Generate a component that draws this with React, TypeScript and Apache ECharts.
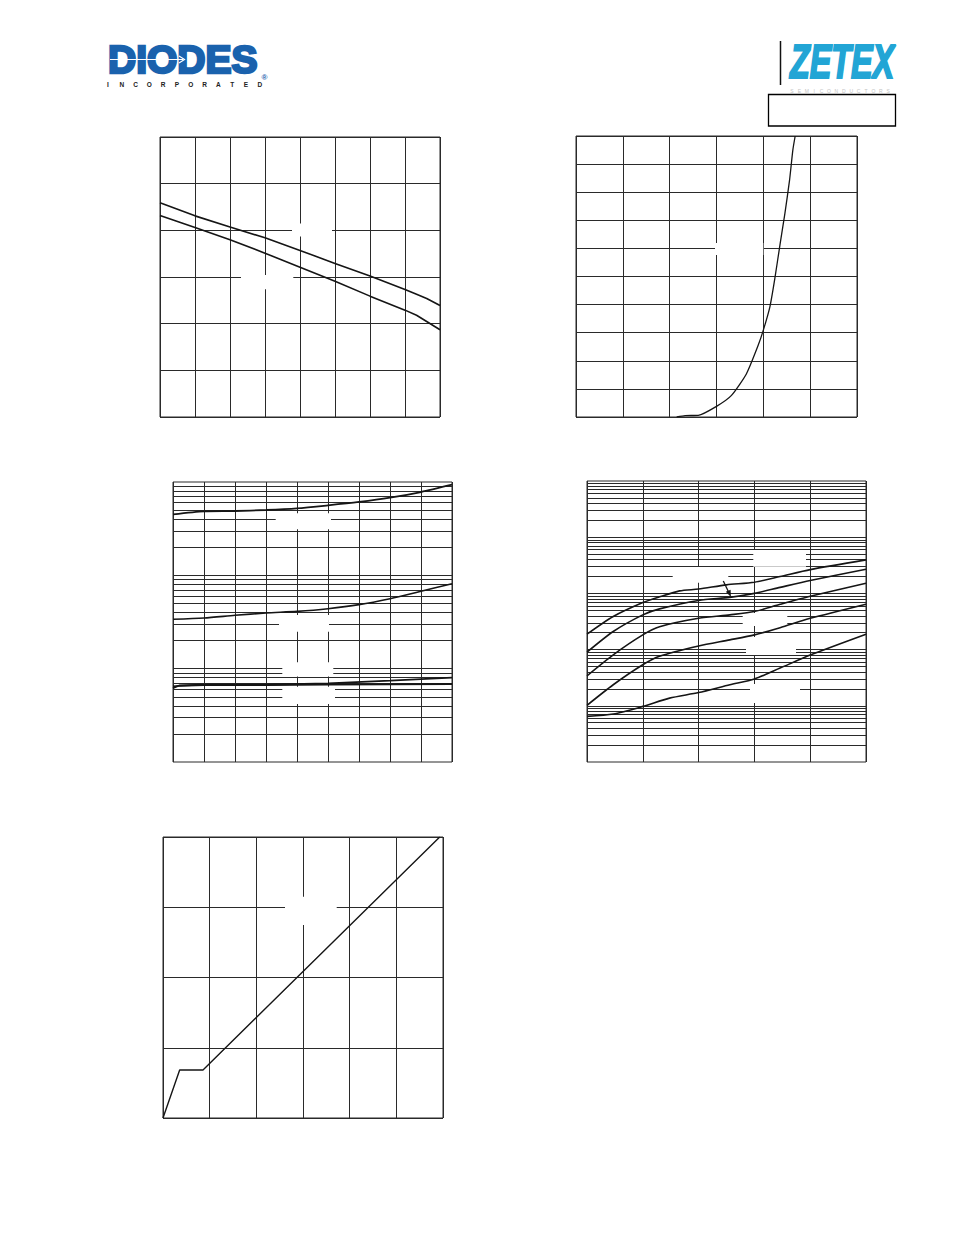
import React, { useEffect, useRef } from "react";
import * as echarts from "echarts";

// ---------- Chart 1 (top left): two near-linear falling curves ----------
const c1UpperX = [0, 1, 2, 3, 4, 5, 6, 7, 7.33, 7.62, 8];
const c1UpperY = [4.59, 4.31, 4.07, 3.84, 3.57, 3.29, 3.02, 2.73, 2.63, 2.54, 2.39];
const c1LowerX = [0, 1, 2, 3, 4, 5, 6, 7, 7.33, 8];
const c1LowerY = [4.32, 4.06, 3.8, 3.51, 3.21, 2.91, 2.59, 2.29, 2.18, 1.87];

// ---------- Chart 2 (top right): exponential rise ----------
const c2X = [2.15, 2.33, 2.61, 3.0, 3.32, 3.64, 3.89, 4.0, 4.14, 4.24, 4.36, 4.46, 4.56, 4.63, 4.68];
const c2Y = [0, 0.05, 0.06, 0.38, 0.77, 1.54, 2.55, 3.09, 3.92, 4.87, 6.18, 7.24, 8.43, 9.5, 10.0];

// ---------- Chart 3 (middle left): log y, 3 decades ----------
const c3X = [0, 1, 2, 3, 4, 5, 6, 7, 8, 9];
const c3Top = [450, 485, 489, 501, 522, 562, 611, 679, 781, 936];
const c3Mid = [33.8, 34.9, 37.3, 39.5, 41.1, 43.9, 48.5, 56.2, 67.4, 81.4];
const c3LowX = [0, 0.2, 1, 3, 5, 7, 9];
const c3LowA = [6.2, 6.6, 6.74, 6.74, 6.96, 7.44, 8.01];
const c3LowB = [6.45, 6.55, 6.68, 6.68, 6.74, 6.8, 6.85];
const c3Decades = [1, 10, 100];

// ---------- Chart 4 (middle right): log y, 5 decades, five curves ----------
const c4X1 = [0, 0.47, 1, 1.3, 1.66, 2, 2.5, 3, 3.46, 4, 5];
const c4Y1 = [188, 388, 688, 870, 1109, 1195, 1419, 1582, 1995, 2650, 3945];
const c4X2 = [0, 0.47, 1, 1.3, 2, 2.56, 3, 3.46, 4, 5];
const c4Y2 = [90, 210, 415, 530, 750, 850, 1000, 1280, 1700, 2692];
const c4X3 = [0, 0.47, 1, 1.3, 2, 2.56, 3, 3.46, 4, 5];
const c4Y3 = [34.2, 80.9, 183, 255, 360, 415, 476, 640, 890, 1518];
const c4X4 = [0, 0.47, 1, 1.3, 2, 2.56, 3, 3.46, 4, 5];
const c4Y4 = [10.2, 23.7, 53.7, 76, 116, 149, 183, 245, 360, 643];
const c4X5 = [0, 0.47, 1, 1.48, 2, 2.56, 3, 3.46, 4, 5];
const c4Y5 = [6.48, 7.13, 9.76, 13.7, 17.2, 23.7, 30, 46.9, 80, 188];
const c4Decades = [1, 10, 100, 1000, 10000];

// ---------- Chart 5 (bottom left): step then linear ----------
const c5X = [0, 0.357, 0.857, 5.93];
const c5Y = [0, 0.684, 0.684, 4.0];

const INK = "#151515";
const GRID = "#2a2a2a";
const BLUE = "#1a62ad";
const CYAN = "#22a5d5";

function logGridValues(decades: number[]): number[] {
  const out: number[] = [];
  decades.forEach((d, i) => {
    for (let m = i === 0 ? 2 : 1; m <= 9; m++) out.push(m * d);
  });
  return out;
}

function curve(xs: number[], ys: number[], idx: number, width: number, smooth: number | boolean = 0.25) {
  return {
    type: "line",
    xAxisIndex: idx,
    yAxisIndex: idx,
    data: xs.map((x, i) => [x, ys[i]]),
    showSymbol: false,
    symbol: "none",
    smooth,
    clip: true,
    silent: true,
    z: 10,
    lineStyle: { color: INK, width },
  };
}

function minorGrid(idx: number, values: number[], anchor: [number, number]) {
  return {
    type: "line",
    xAxisIndex: idx,
    yAxisIndex: idx,
    data: [anchor],
    symbol: "none",
    showSymbol: false,
    silent: true,
    z: 1,
    lineStyle: { opacity: 0 },
    markLine: {
      z: 1,
      silent: true,
      animation: false,
      symbol: ["none", "none"],
      label: { show: false },
      emphasis: { disabled: true },
      lineStyle: { color: GRID, width: 1, type: "solid" },
      data: values.map((v) => ({ yAxis: v })),
    },
  };
}

function linAxis(idx: number, min: number, max: number) {
  return {
    type: "value",
    gridIndex: idx,
    min,
    max,
    interval: 1,
    axisLabel: { show: false },
    axisTick: { show: false },
    axisLine: { show: false },
    splitLine: { show: true, lineStyle: { color: GRID, width: 1 } },
  };
}

function logAxis(idx: number, min: number, max: number) {
  return {
    type: "log",
    logBase: 10,
    gridIndex: idx,
    min,
    max,
    axisLabel: { show: false },
    axisTick: { show: false },
    axisLine: { show: false },
    splitLine: { show: false },
  };
}

function grid(left: number, top: number, width: number, height: number) {
  return {
    left,
    top,
    width,
    height,
    show: true,
    borderColor: GRID,
    borderWidth: 1,
    backgroundColor: "transparent",
    containLabel: false,
    outerBoundsMode: "none",
  };
}

function whiteRect(x: number, y: number, w: number, h: number) {
  return { type: "rect", silent: true, z: 5, shape: { x, y, width: w, height: h }, style: { fill: "#ffffff" } };
}

export default function App() {
  const ref = useRef<HTMLDivElement>(null);

  useEffect(() => {
    if (!ref.current) return;
    const chart = echarts.init(ref.current, undefined, { renderer: "svg" });

    const incorporated = "INCORPORATED".split("").map((ch, i) => ({
      type: "text",
      silent: true,
      z: 20,
      x: 108 + i * 13.8,
      y: 84.5,
      style: {
        text: ch,
        font: 'bold 6.5px "Liberation Sans"',
        fill: "#222222",
        align: "center",
        verticalAlign: "middle",
      },
    }));

    const semis = "SEMICONDUCTORS".split("").map((ch, i) => ({
      type: "text",
      silent: true,
      z: 20,
      x: 792 + i * 7.4,
      y: 91.3,
      style: {
        text: ch,
        font: '5px "Liberation Sans"',
        fill: "#c4c4c4",
        align: "center",
        verticalAlign: "middle",
      },
    }));

    const option: any = {
      animation: false,
      backgroundColor: "#ffffff",
      grid: [
        grid(160, 137, 280, 280),
        grid(576, 136, 281, 281),
        grid(173, 482, 279, 280),
        grid(587, 481, 279, 281),
        grid(163, 837, 280, 281),
      ],
      xAxis: [
        linAxis(0, 0, 8),
        linAxis(1, 0, 6),
        linAxis(2, 0, 9),
        linAxis(3, 0, 5),
        linAxis(4, 0, 6),
      ],
      yAxis: [
        linAxis(0, 0, 6),
        linAxis(1, 0, 10),
        logAxis(2, 1, 1000),
        logAxis(3, 1, 100000),
        linAxis(4, 0, 4),
      ],
      series: [
        minorGrid(2, logGridValues(c3Decades), [0, 10]),
        minorGrid(3, logGridValues(c4Decades), [0, 10]),
        curve(c1UpperX, c1UpperY, 0, 1.6, false),
        curve(c1LowerX, c1LowerY, 0, 1.6, false),
        curve(c2X, c2Y, 1, 1.3, 0.2),
        curve(c3X, c3Top, 2, 1.8),
        curve(c3X, c3Mid, 2, 1.6),
        curve(c3LowX, c3LowA, 2, 1.8, false),
        curve(c3LowX, c3LowB, 2, 1.8, false),
        curve(c4X1, c4Y1, 3, 1.6),
        curve(c4X2, c4Y2, 3, 1.6),
        curve(c4X3, c4Y3, 3, 1.6),
        curve(c4X4, c4Y4, 3, 1.6),
        curve(c4X5, c4Y5, 3, 1.6),
        curve(c5X, c5Y, 4, 1.4, false),
      ],
      graphic: {
        elements: [
          // label knock-outs over grid lines
          whiteRect(292, 223.5, 40, 13),
          whiteRect(241, 275, 52.3, 14.3),
          whiteRect(715, 243, 48.3, 12),
          whiteRect(275.7, 513.3, 55.3, 16),
          whiteRect(279, 615, 50, 16.7),
          whiteRect(282.3, 662.3, 51, 14.2),
          whiteRect(282.3, 686.7, 52.7, 17.3),
          whiteRect(753.3, 550, 52.7, 16.7),
          whiteRect(672.7, 567, 55.6, 15.7),
          whiteRect(742.7, 613, 44.6, 13),
          whiteRect(746, 637, 50, 18),
          whiteRect(750, 684, 50, 19),
          whiteRect(285, 896.7, 51.7, 28.3),
          // arrow in chart 4
          {
            type: "line",
            silent: true,
            z: 20,
            shape: { x1: 723.3, y1: 581, x2: 728.6, y2: 592 },
            style: { stroke: INK, lineWidth: 1.3 },
          },
          {
            type: "polygon",
            silent: true,
            z: 20,
            shape: { points: [[725.8, 591.8], [730.6, 589.7], [730.9, 597]] },
            style: { fill: INK },
          },
          // DIODES logo
          {
            type: "text",
            silent: true,
            z: 20,
            x: 108,
            y: 59.5,
            style: {
              text: "DIODES",
              font: 'bold 39px "Liberation Sans"',
              fill: BLUE,
              stroke: BLUE,
              lineWidth: 2.6,
              align: "left",
              verticalAlign: "middle",
            },
          },
          {
            type: "line",
            silent: true,
            z: 21,
            shape: { x1: 110, y1: 59.5, x2: 183, y2: 59.5 },
            style: { stroke: "#ffffff", lineWidth: 1.2 },
          },
          {
            type: "polyline",
            silent: true,
            z: 21,
            shape: { points: [[179, 56], [184.5, 59.5], [179, 63]] },
            style: { stroke: "#ffffff", lineWidth: 1.2, fill: "none" },
          },
          {
            type: "text",
            silent: true,
            z: 20,
            x: 264.5,
            y: 77.5,
            style: {
              text: "®",
              font: 'bold 8px "Liberation Sans"',
              fill: BLUE,
              align: "center",
              verticalAlign: "middle",
            },
          },
          ...incorporated,
          // ZETEX logo
          {
            type: "line",
            silent: true,
            z: 20,
            shape: { x1: 780.5, y1: 41, x2: 780.5, y2: 85 },
            style: { stroke: "#111111", lineWidth: 1.5 },
          },
          {
            type: "text",
            silent: true,
            z: 20,
            x: 790,
            y: 61,
            scaleX: 0.66,
            style: {
              text: "ZETEX",
              font: 'italic bold 49px "Liberation Sans"',
              fill: CYAN,
              stroke: CYAN,
              lineWidth: 2.2,
              align: "left",
              verticalAlign: "middle",
            },
          },
          ...semis,
          {
            type: "rect",
            silent: true,
            z: 20,
            shape: { x: 768.5, y: 94.5, width: 127, height: 31.5 },
            style: { fill: "none", stroke: "#000000", lineWidth: 1.3 },
          },
        ],
      },
    };

    chart.setOption(option);
    return () => {
      chart.dispose();
    };
  }, []);

  return (
    <div
      ref={ref}
      style={{ position: "absolute", left: 0, top: 0, width: 954, height: 1235, background: "#ffffff" }}
    />
  );
}
